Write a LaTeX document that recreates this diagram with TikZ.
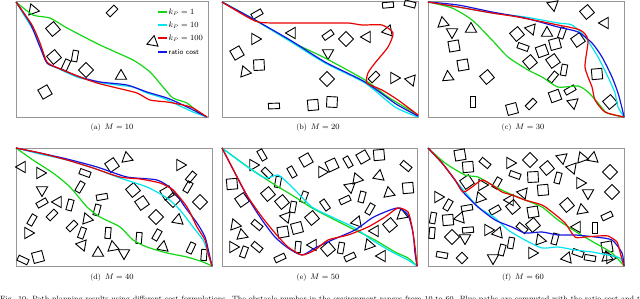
\documentclass[tikz,border=0pt]{standalone}
\usepackage{tikz}
\usetikzlibrary{shapes.geometric}

\definecolor{pgreen}{RGB}{20,215,20}
\definecolor{pcyan}{RGB}{0,230,240}
\definecolor{pred}{RGB}{235,0,0}
\definecolor{pblue}{RGB}{20,20,225}
\definecolor{framegray}{RGB}{150,150,150}

\begin{document}
\begin{tikzpicture}[
    x=1pt, y=-1pt,
    panelframe/.style={draw=framegray, line width=0.8},
    sq/.style={draw, line width=0.9, rectangle, minimum size=10.5, inner sep=0},
    rc/.style={draw, line width=0.9, rectangle, minimum width=11, minimum height=5.5, inner sep=0},
    tr/.style={draw, line width=0.9, regular polygon, regular polygon sides=3, minimum size=13, inner sep=0},
    route/.style={line width=1.2, line join=round, smooth, tension=0.4},
    subcap/.style={anchor=base, font=\fontsize{7.6}{9}\selectfont},
    legtext/.style={anchor=west, inner sep=0, font=\fontsize{7.8}{9}\selectfont}
]
    \useasboundingbox (0,0) rectangle (640,299);
    \fill[white] (0,0) rectangle (640,299);

    % ---- (a) M = 10
    \draw[panelframe] (16,1) rectangle (208,117);
    \node[tr, rotate=20] at (33,10) {};
    \node[rc, rotate=45] at (112,11) {};
    \node[sq, rotate=40] at (53,29) {};
    \node[tr, rotate=-10] at (153,42) {};
    \node[sq, rotate=40] at (54,57) {};
    \node[rc, rotate=80] at (75,56) {};
    \node[rc, rotate=65] at (66,65) {};
    \node[sq, rotate=45] at (86,70) {};
    \node[tr] at (121,76) {};
    \node[sq, rotate=30] at (45,92) {};
    \draw[route, pgreen] plot coordinates {(16,2) (33,15) (50,18) (67,28) (100,45) (133,60) (150,72) (163,87) (173,98) (187,103) (198,112) (207,117)};
    \draw[route, pcyan] plot coordinates {(16,2) (27,20) (35,33) (42,50) (47,63) (57,68) (77,77) (97,82) (117,85) (133,87) (147,93) (163,98) (180,106) (193,112) (207,117)};
    \draw[route, pblue] plot coordinates {(16,2) (30,23) (40,47) (47,63) (58,68) (80,77) (100,82) (127,85) (147,92) (167,98) (183,105) (207,117)};
    \draw[route, pred] plot coordinates {(16,2) (32,25) (40,43) (47,62) (58,68) (80,77) (97,83) (117,88) (137,93) (150,100) (167,102) (183,105) (193,108) (207,117)};
    % legend
    \foreach \y/\c/\t in {12/pgreen/{$k_P=1$}, 25/pcyan/{$k_P=10$}, 38/pred/{$k_P=100$}} {
        \draw[\c, line width=1.2] (158,\y) -- (167,\y);
        \node[legtext] at (168.5,\y) {\t};
    }
    \draw[pblue, line width=1.2] (158,52) -- (167,52);
    \node[legtext, font=\fontsize{7.2}{9}\sffamily] at (168.5,52) {ratio cost};
    \node[subcap] at (112,129.5) {(a)\enspace$M=10$};

    % ---- (b) M = 20
    \draw[panelframe] (222,1) rectangle (418,117);
    \node[rc, rotate=5] at (388,5) {};
    \node[rc, rotate=-15] at (410,4) {};
    \node[rc, rotate=30] at (257,14) {};
    \node[tr, rotate=-30] at (292,33) {};
    \node[tr, rotate=30] at (255,39) {};
    \node[rc, rotate=35] at (328,35) {};
    \node[sq, rotate=45] at (346,39) {};
    \node[tr, rotate=-30] at (367,37) {};
    \node[tr, rotate=-20] at (388,31) {};
    \node[sq, rotate=30] at (237,53) {};
    \node[tr, rotate=180] at (328,53) {};
    \node[sq, rotate=3] at (259,65) {};
    \node[tr, rotate=20] at (245,72) {};
    \node[sq, rotate=45] at (327,79) {};
    \node[rc, rotate=45] at (374,77) {};
    \node[tr, rotate=30] at (394,78) {};
    \node[tr, rotate=200] at (411,80) {};
    \node[rc, rotate=2] at (274,106) {};
    \node[sq, rotate=5] at (313,105) {};
    \node[sq, rotate=-3] at (332,102) {};
    \draw[route, pgreen] plot coordinates {(222,2) (255,20) (292,42) (325,58) (365,80) (388,97) (418,115)};
    \draw[route, pcyan] plot coordinates {(222,2) (255,20) (288,40) (325,63) (365,83) (395,107) (418,117)};
    \draw[route, pblue] plot coordinates {(222,2) (255,20) (290,40) (325,62) (365,82) (396,104) (418,116)};
    \draw[route, pred] plot coordinates {(222,2) (255,21) (275,23) (315,23) (348,23) (362,25) (382,25) (393,33) (388,47) (375,63) (368,73) (367,83) (382,90) (398,100) (418,115)};
    \node[subcap] at (318,129.5) {(b)\enspace$M=20$};

    % ---- (c) M = 30
    \draw[panelframe] (428,1) rectangle (624,117);
    \node[tr, rotate=190] at (553,5) {};
    \node[sq, rotate=40] at (587,12) {};
    \node[tr, rotate=-30] at (605,23) {};
    \node[tr, rotate=10] at (443,23) {};
    \node[tr, rotate=180] at (452,32) {};
    \node[tr] at (471,29) {};
    \node[sq, rotate=10] at (454,46) {};
    \node[sq, rotate=40] at (517,34) {};
    \node[tr, rotate=200] at (531,29) {};
    \node[tr] at (547,33) {};
    \node[rc, rotate=70] at (562,33) {};
    \node[sq, rotate=35] at (578,40) {};
    \node[rc, rotate=-20] at (523,47) {};
    \node[sq, rotate=20] at (542,51) {};
    \node[sq, rotate=15] at (555,44) {};
    \node[sq, rotate=40] at (530,62) {};
    \node[sq, rotate=35] at (553,61) {};
    \node[rc, rotate=80] at (564,70) {};
    \node[rc, rotate=50] at (553,77) {};
    \node[sq, rotate=10] at (463,65) {};
    \node[sq, rotate=40] at (487,77) {};
    \node[tr, rotate=5] at (448,77) {};
    \node[sq, rotate=5] at (597,74) {};
    \node[sq, rotate=20] at (555,96) {};
    \node[rc, rotate=30] at (570,90) {};
    \node[tr, rotate=190] at (573,103) {};
    \node[sq, rotate=40] at (610,102) {};
    \node[rc, rotate=90] at (473,102) {};
    \node[rc, rotate=45] at (531,104) {};
    \node[sq, rotate=15] at (512,109) {};
    \draw[route, pgreen] plot coordinates {(428,2) (452,8) (472,20) (492,40) (508,57) (528,70) (542,77) (558,87) (578,86) (588,92) (598,103) (607,113) (624,117)};
    \draw[route, pcyan] plot coordinates {(428,2) (458,7) (492,13) (525,17) (558,23) (572,25) (585,37) (598,57) (608,77) (615,93) (618,107) (624,117)};
    \draw[route, pblue] plot coordinates {(428,2) (458,5) (492,12) (525,18) (558,27) (578,32) (592,43) (602,57) (612,77) (618,93) (622,108) (624,117)};
    \draw[route, pred] plot coordinates {(428,2) (458,7) (492,13) (518,17) (558,25) (580,30) (588,40) (585,67) (592,87) (595,100) (605,112) (624,117)};
    \node[subcap] at (523,129.5) {(c)\enspace$M=30$};

    % ---- (d) M = 40
    \draw[panelframe] (16,148) rectangle (212,266);
    \node[tr, rotate=-30] at (22,167) {};
    \node[tr, rotate=30] at (40,173) {};
    \node[tr, rotate=180] at (42,190) {};
    \node[rc, rotate=-20] at (85,173) {};
    \node[sq, rotate=35] at (112,165) {};
    \node[tr, rotate=10] at (127,158) {};
    \node[tr, rotate=30] at (180,165) {};
    \node[rc, rotate=50] at (191,177) {};
    \node[rc, rotate=60] at (188,187) {};
    \node[rc, rotate=60] at (80,187) {};
    \node[sq, rotate=40] at (133,190) {};
    \node[sq, rotate=35] at (142,203) {};
    \node[sq, rotate=30] at (167,193) {};
    \node[sq, rotate=45] at (173,200) {};
    \node[sq, rotate=45] at (200,202) {};
    \node[rc, rotate=30] at (42,203) {};
    \node[tr, rotate=-30] at (58,202) {};
    \node[rc, rotate=75] at (70,205) {};
    \node[rc, rotate=10] at (102,197) {};
    \node[rc, rotate=75] at (97,210) {};
    \node[rc, rotate=45] at (52,215) {};
    \node[rc, rotate=60] at (32,220) {};
    \node[tr, rotate=20] at (87,219) {};
    \node[sq, rotate=45] at (156,217) {};
    \node[tr, rotate=-10] at (178,220) {};
    \node[rc, rotate=45] at (72,226) {};
    \node[tr, rotate=30] at (28,233) {};
    \node[rc, rotate=70] at (82,233) {};
    \node[rc, rotate=85] at (108,233) {};
    \node[rc, rotate=60] at (157,235) {};
    \node[tr, rotate=200] at (82,245) {};
    \node[rc, rotate=85] at (139,238) {};
    \node[tr] at (98,253) {};
    \node[tr, rotate=10] at (113,247) {};
    \node[tr, rotate=180] at (124,253) {};
    \node[tr, rotate=-10] at (163,247) {};
    \node[rc, rotate=65] at (191,248) {};
    \node[rc, rotate=85] at (204,255) {};
    \node[rc, rotate=-25] at (23,260) {};
    \node[sq, rotate=15] at (38,257) {};
    \draw[route, pgreen] plot coordinates {(16,148) (33,160) (53,173) (70,187) (87,207) (100,217) (120,227) (133,240) (147,247) (167,253) (187,257) (203,262) (212,266)};
    \draw[route, pcyan] plot coordinates {(16,148) (40,154) (67,160) (93,168) (120,178) (147,187) (167,198) (180,210) (193,227) (203,240) (208,253) (212,266)};
    \draw[route, pblue] plot coordinates {(16,148) (40,153) (67,159) (97,167) (127,177) (157,180) (173,190) (185,207) (197,223) (205,237) (209,253) (212,266)};
    \draw[route, pred] plot coordinates {(16,148) (40,153) (67,160) (93,168) (120,177) (140,179) (160,183) (173,190) (187,207) (197,227) (205,240) (208,253) (212,266)};
    \node[subcap] at (112,279.5) {(d)\enspace$M=40$};

    % ---- (e) M = 50
    \draw[panelframe] (222,148) rectangle (417,266);
    \node[rc, rotate=-60] at (262,155) {};
    \node[tr, rotate=30] at (253,165) {};
    \node[rc, rotate=-45] at (267,173) {};
    \node[sq, rotate=5] at (232,184) {};
    \node[rc, rotate=80] at (278,182) {};
    \node[rc, rotate=-60] at (292,172) {};
    \node[sq, rotate=30] at (306,160) {};
    \node[sq, rotate=25] at (332,165) {};
    \node[tr, rotate=30] at (322,172) {};
    \node[rc, rotate=-60] at (348,162) {};
    \node[sq, rotate=30] at (363,157) {};
    \node[sq, rotate=5] at (379,155) {};
    \node[rc, rotate=-40] at (406,166) {};
    \node[tr, rotate=-10] at (379,176) {};
    \node[tr, rotate=20] at (357,179) {};
    \node[tr, rotate=190] at (350,187) {};
    \node[sq, rotate=5] at (408,188) {};
    \node[tr, rotate=10] at (389,193) {};
    \node[sq, rotate=40] at (268,194) {};
    \node[sq, rotate=35] at (242,200) {};
    \node[sq, rotate=40] at (282,202) {};
    \node[rc, rotate=70] at (304,197) {};
    \node[rc, rotate=-55] at (325,205) {};
    \node[rc, rotate=25] at (345,200) {};
    \node[rc, rotate=75] at (362,197) {};
    \node[rc, rotate=60] at (370,209) {};
    \node[rc, rotate=80] at (293,207) {};
    \node[tr, rotate=200] at (286,217) {};
    \node[sq, rotate=40] at (312,218) {};
    \node[tr, rotate=-20] at (357,222) {};
    \node[sq, rotate=40] at (390,225) {};
    \node[tr, rotate=20] at (235,225) {};
    \node[rc, rotate=-40] at (257,225) {};
    \node[tr, rotate=10] at (242,235) {};
    \node[sq, rotate=10] at (283,232) {};
    \node[sq, rotate=15] at (297,228) {};
    \node[tr, rotate=-30] at (375,231) {};
    \node[tr, rotate=10] at (402,215) {};
    \node[tr, rotate=30] at (233,247) {};
    \node[rc, rotate=70] at (244,252) {};
    \node[rc, rotate=-40] at (257,247) {};
    \node[rc, rotate=85] at (298,247) {};
    \node[tr, rotate=-30] at (313,245) {};
    \node[sq, rotate=40] at (328,249) {};
    \node[rc, rotate=80] at (341,248) {};
    \node[tr, rotate=20] at (369,245) {};
    \node[rc, rotate=25] at (350,257) {};
    \node[tr, rotate=-30] at (382,256) {};
    \node[rc, rotate=25] at (280,258) {};
    \draw[route, pgreen] plot coordinates {(222,148) (248,167) (272,183) (295,197) (312,208) (335,220) (355,230) (375,240) (395,252) (408,258) (417,266)};
    \draw[route, pcyan] plot coordinates {(222,148) (242,163) (265,178) (278,175) (292,187) (312,207) (332,217) (355,228) (372,240) (392,252) (408,260) (417,266)};
    \draw[route, pblue] plot coordinates {(222,148) (235,173) (248,198) (262,220) (275,237) (288,248) (302,255) (315,248) (332,240) (355,230) (372,218) (385,212) (398,208) (408,215) (413,233) (415,253) (417,266)};
    \draw[route, pred] plot coordinates {(222,148) (235,173) (248,197) (262,217) (275,233) (288,247) (302,255) (315,250) (328,240) (348,235) (368,227) (385,217) (398,208) (408,212) (412,227) (415,247) (417,266)};
    \node[subcap] at (318,279.5) {(e)\enspace$M=50$};

    % ---- (f) M = 60
    \draw[panelframe] (428,148) rectangle (624,266);
    \node[sq, rotate=10] at (460,155) {};
    \node[sq, rotate=5] at (468,167) {};
    \node[rc, rotate=-40] at (485,163) {};
    \node[tr, rotate=30] at (510,163) {};
    \node[sq, rotate=45] at (530,160) {};
    \node[rc, rotate=-20] at (515,175) {};
    \node[sq, rotate=3] at (533,177) {};
    \node[sq, rotate=40] at (547,168) {};
    \node[rc, rotate=75] at (558,178) {};
    \node[tr, rotate=190] at (562,158) {};
    \node[tr, rotate=200] at (572,168) {};
    \node[tr, rotate=20] at (582,158) {};
    \node[tr, rotate=-10] at (593,158) {};
    \node[sq, rotate=45] at (610,172) {};
    \node[sq, rotate=35] at (467,182) {};
    \node[tr, rotate=30] at (482,185) {};
    \node[rc, rotate=60] at (497,183) {};
    \node[tr, rotate=200] at (523,193) {};
    \node[sq, rotate=5] at (543,190) {};
    \node[tr, rotate=30] at (580,183) {};
    \node[tr, rotate=180] at (588,193) {};
    \node[sq, rotate=45] at (612,192) {};
    \node[tr, rotate=30] at (438,197) {};
    \node[tr, rotate=20] at (480,198) {};
    \node[rc, rotate=60] at (448,205) {};
    \node[rc, rotate=10] at (467,208) {};
    \node[rc, rotate=30] at (495,210) {};
    \node[sq, rotate=40] at (513,207) {};
    \node[tr, rotate=-30] at (510,200) {};
    \node[sq, rotate=40] at (567,205) {};
    \node[tr, rotate=10] at (582,210) {};
    \node[sq, rotate=10] at (533,212) {};
    \node[rc, rotate=80] at (433,218) {};
    \node[sq, rotate=5] at (448,220) {};
    \node[tr, rotate=-20] at (460,218) {};
    \node[rc, rotate=25] at (607,216) {};
    \node[rc, rotate=85] at (432,233) {};
    \node[sq, rotate=45] at (452,237) {};
    \node[tr, rotate=180] at (465,238) {};
    \node[rc, rotate=5] at (468,230) {};
    \node[tr, rotate=30] at (488,230) {};
    \node[tr, rotate=-20] at (498,233) {};
    \node[rc, rotate=-40] at (522,228) {};
    \node[sq, rotate=40] at (533,225) {};
    \node[tr, rotate=20] at (540,240) {};
    \node[rc, rotate=75] at (555,239) {};
    \node[rc, rotate=90] at (595,228) {};
    \node[tr, rotate=-30] at (577,227) {};
    \node[rc, rotate=80] at (511,243) {};
    \node[rc, rotate=75] at (502,250) {};
    \node[tr, rotate=30] at (532,253) {};
    \node[sq, rotate=10] at (607,247) {};
    \node[tr, rotate=10] at (607,257) {};
    \node[tr, rotate=180] at (493,258) {};
    \node[rc, rotate=-10] at (442,255) {};
    \node[sq, rotate=45, minimum size=8] at (462,258) {};
    \node[tr, rotate=-20] at (567,258) {};
    \node[rc, rotate=-20] at (578,253) {};
    \node[rc, rotate=-10] at (590,258) {};
    \node[tr, rotate=30] at (610,258) {};
    \draw[route, pgreen] plot coordinates {(428,148) (445,163) (465,175) (478,177) (492,185) (508,193) (525,200) (542,207) (558,220) (578,233) (595,243) (612,253) (624,266)};
    \draw[route, pcyan] plot coordinates {(428,148) (442,163) (455,180) (465,192) (478,207) (495,218) (508,230) (525,240) (542,248) (558,247) (575,250) (592,252) (608,255) (620,258) (624,266)};
    \draw[route, pblue] plot coordinates {(428,148) (442,163) (455,180) (463,192) (478,207) (495,220) (512,227) (525,233) (542,232) (558,235) (575,235) (595,237) (612,240) (622,253) (624,266)};
    \draw[route, pred] plot coordinates {(428,148) (442,163) (455,180) (463,192) (472,187) (482,180) (492,185) (502,192) (512,195) (525,200) (542,205) (552,212) (565,223) (575,237) (585,237) (598,236) (608,236) (617,242) (620,252) (624,266)};
    \node[subcap] at (523,279.5) {(f)\enspace$M=60$};

    % ---- figure caption, cut by the page edge
    \begin{scope}
        \clip (0,0) rectangle (640,299);
        \node[subcap, anchor=base west, inner sep=0] at (0,301.5) {\makebox[640pt][s]{Fig. 10: Path planning results using different cost formulations. The obstacle number in the environment ranges from 10 to 60. Blue paths are computed with the ratio cost and t}};
    \end{scope}
\end{tikzpicture}
\end{document}
